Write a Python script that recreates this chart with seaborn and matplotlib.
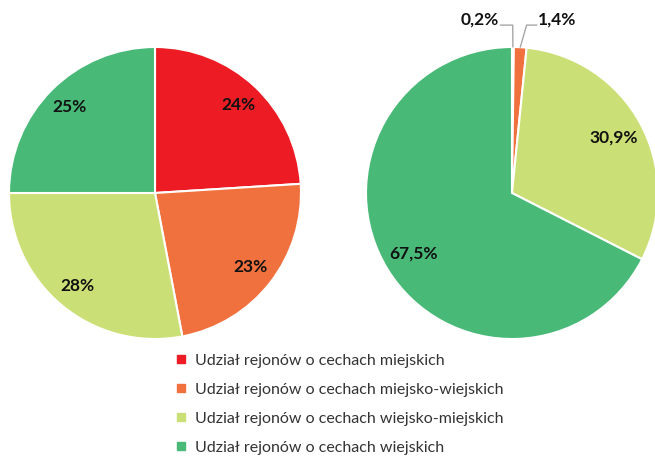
import numpy as np
import seaborn as sns
import matplotlib.pyplot as plt
from matplotlib.lines import Line2D

sns.set_theme(style="white")
plt.rcParams['font.family'] = ['Lato', 'DejaVu Sans']

categories = ["Udział rejonów o cechach miejskich",
              "Udział rejonów o cechach miejsko-wiejskich",
              "Udział rejonów o cechach wiejsko-miejskich",
              "Udział rejonów o cechach wiejskich"]
left_values = [24, 23, 28, 25]
left_labels = ["24%", "23%", "28%", "25%"]
right_values = [0.2, 1.4, 30.9, 67.5]
right_labels = ["0,2%", "1,4%", "30,9%", "67,5%"]

colors = sns.color_palette(["#ED1C24", "#F0703E", "#CBDF77", "#48B977"])

fig = plt.figure(figsize=(6.55, 4.58), dpi=100)
W, H = 655, 458
R = 146


def pie_axes(cx, cy):
    return fig.add_axes([(cx - R) / W, (H - cy - R) / H, 2 * R / W, 2 * R / H])


def draw_pie(ax, values, labels, dist, skip=()):
    wedges, _ = ax.pie(values, colors=colors, startangle=90, counterclock=False,
                       wedgeprops=dict(edgecolor="white", linewidth=1.5))
    ax.set_xlim(-1, 1)
    ax.set_ylim(-1, 1)
    for w, lab in zip(wedges, labels):
        if lab in skip:
            continue
        a = np.deg2rad((w.theta1 + w.theta2) / 2)
        ax.text(dist * np.cos(a), dist * np.sin(a), lab, ha="center", va="center",
                fontsize=12.5, fontweight="bold", color="#111111")
    return wedges


ax1 = pie_axes(155, 193)
draw_pie(ax1, left_values, left_labels, 0.83)

ax2 = pie_axes(512, 193)
wedges = draw_pie(ax2, right_values, right_labels, 0.79, skip=right_labels[:2])

# leader lines for the two thin slices
ly = 1.15
for w, lab, tx, ex, ha in [(wedges[0], right_labels[0], -0.08, 0.005, "right"),
                           (wedges[1], right_labels[1], 0.17, 0.10, "left")]:
    a = np.deg2rad((w.theta1 + w.theta2) / 2)
    px, py = np.cos(a), np.sin(a)
    ax2.plot([tx, ex, px], [ly, ly, py], color="#a6a6a6", lw=1, clip_on=False)
    ax2.text(tx + (-0.01 if ha == "right" else 0.01), ly + 0.04, lab, ha=ha, va="center",
             fontsize=12.5, fontweight="bold", color="#111111", clip_on=False)

handles = [Line2D([], [], marker="s", linestyle="", markersize=6, color=c) for c in colors]
fig.legend(handles, categories, loc="upper left", bbox_to_anchor=(168 / W, 1 - 347 / H),
           frameon=False, fontsize=11.5, labelcolor="#333333", handletextpad=0.5,
           handlelength=0.8, labelspacing=0.93, borderaxespad=0)

fig.savefig("out.png", dpi=100)
